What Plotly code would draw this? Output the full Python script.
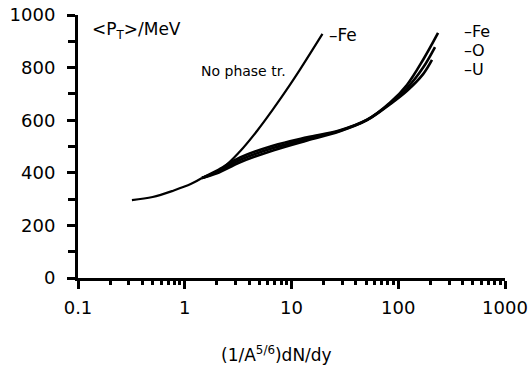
import plotly.graph_objects as go

# ---- data ----
common_x = [0.32, 0.5, 0.78, 1.15, 1.45]
common_y = [296, 308, 332, 358, 380]

nopt_x = [1.45, 2.28, 3.3, 4.75, 6.7, 9.7, 12, 19.5]
nopt_y = [380, 420, 482, 559, 641, 735, 792, 928]

fe_x = [1.45, 2.0, 3.3, 6.7, 14, 28, 51, 84, 121, 171, 236]
fe_y = [380, 403, 449, 494, 529, 559, 601, 667, 735, 830, 932]
o_x = [1.45, 2.0, 3.3, 6.7, 14, 28, 51, 84, 121, 171, 221]
o_y = [380, 408, 458, 503, 535, 561, 602, 664, 722, 800, 878]
u_x = [1.45, 2.0, 3.3, 6.7, 14, 28, 51, 84, 121, 171, 207]
u_y = [380, 398, 440, 485, 523, 557, 600, 661, 712, 775, 829]

x_tick_vals = [0.1, 1, 10, 100, 1000]
x_tick_text = ["0.1", "1", "10", "100", "1000"]
y_tick_vals = [0, 200, 400, 600, 800, 1000]

FONT = "DejaVu Sans"

fig = go.Figure()
for xs, ys, w in [(common_x, common_y, 2.2), (nopt_x, nopt_y, 2.2),
                  (fe_x, fe_y, 2.6), (o_x, o_y, 2.6), (u_x, u_y, 2.6)]:
    fig.add_trace(go.Scatter(x=xs, y=ys, mode="lines",
                             line=dict(color="black", width=w, shape="spline", smoothing=1.0),
                             showlegend=False, hoverinfo="skip"))

minor_x = [m * 10 ** e for e in range(-1, 3) for m in range(2, 10)]

fig.update_xaxes(
    type="log", range=[-1, 3], automargin=False,
    tickvals=x_tick_vals, ticktext=x_tick_text,
    ticks="outside", ticklen=8, tickwidth=2.5, tickcolor="black",
    showline=True, linewidth=3, linecolor="black",
    showgrid=False, zeroline=False,
    ticklabelstandoff=3,
    tickfont=dict(family=FONT, size=18, color="black"),
    minor=dict(tickvals=minor_x, ticks="outside", ticklen=4, tickwidth=2.5, tickcolor="black", showgrid=False),
)
fig.update_yaxes(
    range=[0, 1000], automargin=False,
    tickvals=y_tick_vals,
    ticks="outside", ticklen=8, tickwidth=2.5, tickcolor="black",
    showline=True, linewidth=3, linecolor="black",
    showgrid=False, zeroline=False,
    ticklabelstandoff=8,
    tickfont=dict(family=FONT, size=18, color="black"),
    minor=dict(dtick=100, ticks="outside", ticklen=7, tickwidth=2.5, tickcolor="black", showgrid=False),
)

ann_font = dict(family=FONT, size=17, color="black")
fig.add_annotation(x=-0.888, y=940, xref="x", yref="y", text="&lt;P<sub>T</sub>&gt;/MeV",
                   showarrow=False, xanchor="left", yanchor="middle", font=dict(family=FONT, size=17, color="black"))
fig.add_annotation(x=0.546, y=787, xref="x", yref="y", text="No phase tr.",
                   showarrow=False, xanchor="center", yanchor="middle", font=dict(family=FONT, size=14, color="black"))
fig.add_annotation(x=1.333, y=924, xref="x", yref="y", text="–Fe",
                   showarrow=False, xanchor="left", yanchor="middle", font=ann_font)
for lab, yy in [("–Fe", 936), ("–O", 865), ("–U", 793)]:
    fig.add_annotation(x=2.597, y=yy, xref="x", yref="y", text=lab,
                       showarrow=False, xanchor="left", yanchor="middle",
                       font=dict(family=FONT, size=16, color="black"))
fig.add_annotation(x=0.466, y=-0.289, xref="paper", yref="paper", text="(1/A<sup>5/6</sup>)dN/dy",
                   showarrow=False, xanchor="center", yanchor="middle", font=ann_font)

fig.update_layout(
    width=532, height=367,
    margin=dict(l=78, r=27, t=15, b=89),
    paper_bgcolor="white", plot_bgcolor="white",
    font=dict(family=FONT, color="black"),
)
fig.write_html("out.html")
